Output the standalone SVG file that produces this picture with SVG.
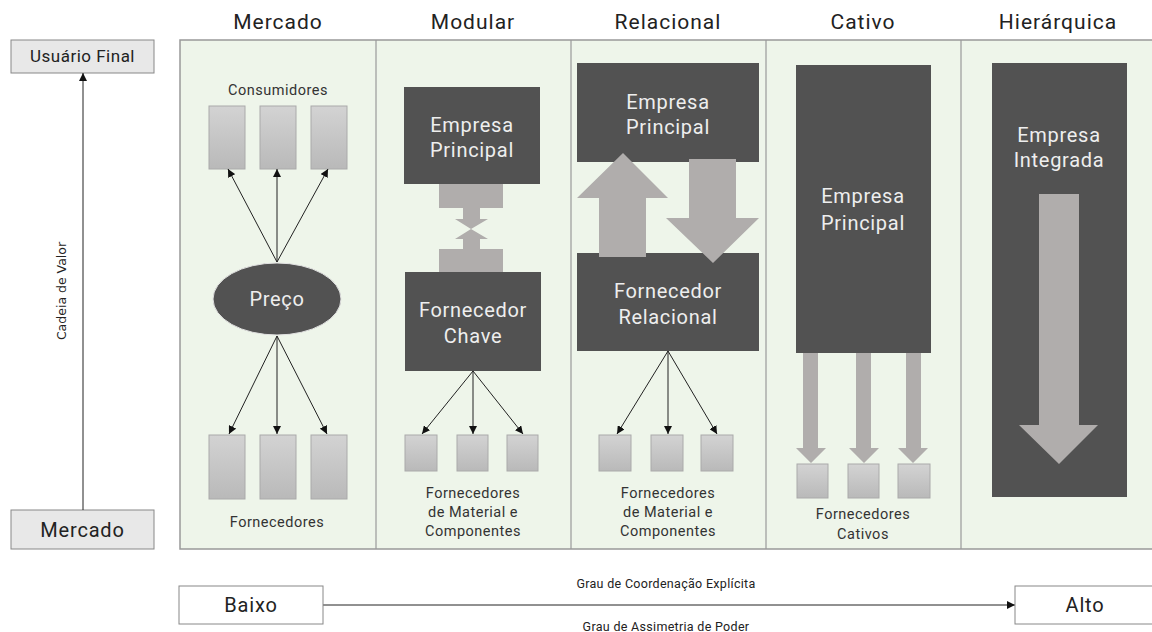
<svg xmlns="http://www.w3.org/2000/svg" width="1152" height="632" viewBox="0 0 1152 632">
<defs>
<linearGradient id="g" x1="0" y1="0" x2="0" y2="1"><stop offset="0" stop-color="#d3d3d3"/><stop offset="1" stop-color="#b9b9b9"/></linearGradient>
<marker id="ah" viewBox="0 0 10 10" refX="10" refY="5" markerWidth="8" markerHeight="8" markerUnits="userSpaceOnUse" orient="auto"><path d="M0,0 L10,5 L0,10 z" fill="#111"/></marker>
</defs>
<style>
text{font-family:Roboto,"Liberation Sans",sans-serif;text-anchor:middle}
.title{font-size:21px;fill:#222;letter-spacing:1px}
.dark{fill:#525252}
.light{fill:#eeeeee;font-size:20px;letter-spacing:0.7px}
.box{fill:url(#g);stroke:#aaaaaa;stroke-width:1}
.lbl{font-size:14.5px;fill:#333;letter-spacing:0.5px}
.gr{fill:#b0adac}
.ln{stroke:#222;stroke-width:1;fill:none}
.small{font-size:12.5px;fill:#222;letter-spacing:0.3px}
</style>
<rect x="180" y="40" width="980" height="509" fill="#eef5ea" stroke="#999" stroke-width="1.5"/>
<g stroke="#999" stroke-width="1.2"><line x1="376" y1="40" x2="376" y2="549"/><line x1="571" y1="40" x2="571" y2="549"/><line x1="766" y1="40" x2="766" y2="549"/><line x1="961" y1="40" x2="961" y2="549"/></g>
<g id="titles">
<text class="title" x="278" y="29">Mercado</text>
<text class="title" x="473" y="29">Modular</text>
<text class="title" x="668" y="29">Relacional</text>
<text class="title" x="863" y="29">Cativo</text>
<text class="title" x="1058" y="29">Hierárquica</text>
</g>
<g id="usuario"><rect x="11" y="40" width="143" height="33" fill="#e8e8e8" stroke="#888"/><text x="82.5" y="62" style="font-size:17px;fill:#222;letter-spacing:0.5px">Usuário Final</text></g>
<g id="mercado-left"><rect x="11" y="510" width="143" height="39" fill="#e8e8e8" stroke="#888"/><text x="82.5" y="537" style="font-size:20px;fill:#222;letter-spacing:0.8px">Mercado</text></g>
<text x="0" y="0" transform="translate(66,291) rotate(-90)" style="font-family:'DejaVu Sans',sans-serif;font-size:12.5px;fill:#222">Cadeia de Valor</text>

<g id="mercado-col">
<text class="lbl" x="278" y="95">Consumidores</text>
<rect class="box" x="209" y="106" width="36" height="63"/><rect class="box" x="260" y="106" width="36" height="63"/><rect class="box" x="311" y="106" width="36" height="63"/>
<g id="preco"><ellipse cx="277" cy="299" rx="64" ry="36" class="dark" stroke="#e0e0e0" stroke-width="1"/><text class="light" x="277" y="306" style="font-size:20px">Preço</text></g>
<rect class="box" x="209" y="435" width="36" height="64"/><rect class="box" x="260" y="435" width="36" height="64"/><rect class="box" x="311" y="435" width="36" height="64"/>
<text class="lbl" x="277" y="527">Fornecedores</text>
</g>

<g id="modular-col">
<rect class="dark" x="404" y="87" width="136" height="97"/>
<text class="light" x="472" y="132">Empresa</text><text class="light" x="472" y="157">Principal</text>
<path class="gr" d="M439,184 H503 V208 H480 V219 H488 L471,229 L455,219 H463 V208 H439 Z"/>
<path class="gr" d="M439,272 H503 V249 H480 V239 H488 L471,229 L455,239 H463 V249 H439 Z"/>
<rect class="dark" x="405" y="272" width="136" height="99"/>
<text class="light" x="473" y="317">Fornecedor</text><text class="light" x="473" y="343">Chave</text>
<rect class="box" x="405" y="435" width="32" height="36"/><rect class="box" x="457" y="435" width="31" height="36"/><rect class="box" x="507" y="435" width="31" height="36"/>
<text class="lbl" x="473" y="498">Fornecedores</text><text class="lbl" x="473" y="517">de Material e</text><text class="lbl" x="473" y="536">Componentes</text>
</g>

<g id="relacional-col">
<rect class="dark" x="577" y="63" width="182" height="99"/>
<text class="light" x="668" y="109">Empresa</text><text class="light" x="668" y="134">Principal</text>
<rect class="dark" x="577" y="253" width="182" height="98"/>
<text class="light" x="668" y="298">Fornecedor</text><text class="light" x="668" y="324">Relacional</text>
<path class="gr" d="M623,153 L668,198 H646 V257 H599 V198 H577 Z"/>
<path class="gr" d="M689,159 H736 V218 H759 L713,263 L666,218 H689 Z"/>
<rect class="box" x="599" y="435" width="32" height="36"/><rect class="box" x="651" y="435" width="32" height="36"/><rect class="box" x="701" y="435" width="32" height="36"/>
<text class="lbl" x="668" y="498">Fornecedores</text><text class="lbl" x="668" y="517">de Material e</text><text class="lbl" x="668" y="536">Componentes</text>
</g>

<g id="cativo-col">
<rect class="dark" x="796" y="65" width="135" height="288"/>
<text class="light" x="863" y="203">Empresa</text><text class="light" x="863" y="230">Principal</text>
<path class="gr" d="M803,353 H818 V448 H826 L811,463 L796,448 H803 Z"/>
<path class="gr" d="M856,353 H871 V448 H879 L864,463 L849,448 H856 Z"/>
<path class="gr" d="M906,353 H921 V448 H928 L913,463 L898,448 H906 Z"/>
<rect class="box" x="797" y="464" width="31" height="34"/><rect class="box" x="848" y="464" width="31" height="34"/><rect class="box" x="898" y="464" width="32" height="34"/>
<text class="lbl" x="863" y="519">Fornecedores</text><text class="lbl" x="863" y="539">Cativos</text>
</g>

<g id="hierarquica-col">
<rect class="dark" x="992" y="63" width="135" height="434"/>
<text class="light" x="1059" y="142">Empresa</text><text class="light" x="1059" y="167">Integrada</text>
<path class="gr" d="M1039,194 H1079 V425 H1098 L1059,464 L1019,425 H1039 Z"/>
</g>

<g id="connectors">
<line class="ln" x1="83" y1="510" x2="83" y2="73" marker-end="url(#ah)"/>
<line class="ln" x1="277" y1="262" x2="228" y2="169" marker-end="url(#ah)"/>
<line class="ln" x1="277" y1="262" x2="277" y2="169" marker-end="url(#ah)"/>
<line class="ln" x1="277" y1="262" x2="328" y2="169" marker-end="url(#ah)"/>
<line class="ln" x1="277" y1="336" x2="229" y2="434" marker-end="url(#ah)"/>
<line class="ln" x1="277" y1="336" x2="277" y2="434" marker-end="url(#ah)"/>
<line class="ln" x1="277" y1="336" x2="327" y2="434" marker-end="url(#ah)"/>
<line class="ln" x1="473" y1="371" x2="422" y2="434" marker-end="url(#ah)"/>
<line class="ln" x1="473" y1="371" x2="473" y2="434" marker-end="url(#ah)"/>
<line class="ln" x1="473" y1="371" x2="523" y2="434" marker-end="url(#ah)"/>
<line class="ln" x1="668" y1="351" x2="617" y2="434" marker-end="url(#ah)"/>
<line class="ln" x1="668" y1="351" x2="668" y2="434" marker-end="url(#ah)"/>
<line class="ln" x1="668" y1="351" x2="717" y2="434" marker-end="url(#ah)"/>
<line class="ln" x1="323" y1="605" x2="1015" y2="605" marker-end="url(#ah)"/>
</g>

<g id="baixo"><rect x="179" y="586" width="144" height="38" fill="#fff" stroke="#888"/><text x="251" y="612" style="font-size:20px;fill:#222;letter-spacing:0.8px">Baixo</text></g>
<g id="alto"><rect x="1015" y="586" width="145" height="38" fill="#fff" stroke="#888"/><text x="1085" y="612" style="font-size:20px;fill:#222;letter-spacing:0.8px">Alto</text></g>
<text class="small" x="666" y="588">Grau de Coordenação Explícita</text>
<text class="small" x="666" y="631">Grau de Assimetria de Poder</text>
</svg>
